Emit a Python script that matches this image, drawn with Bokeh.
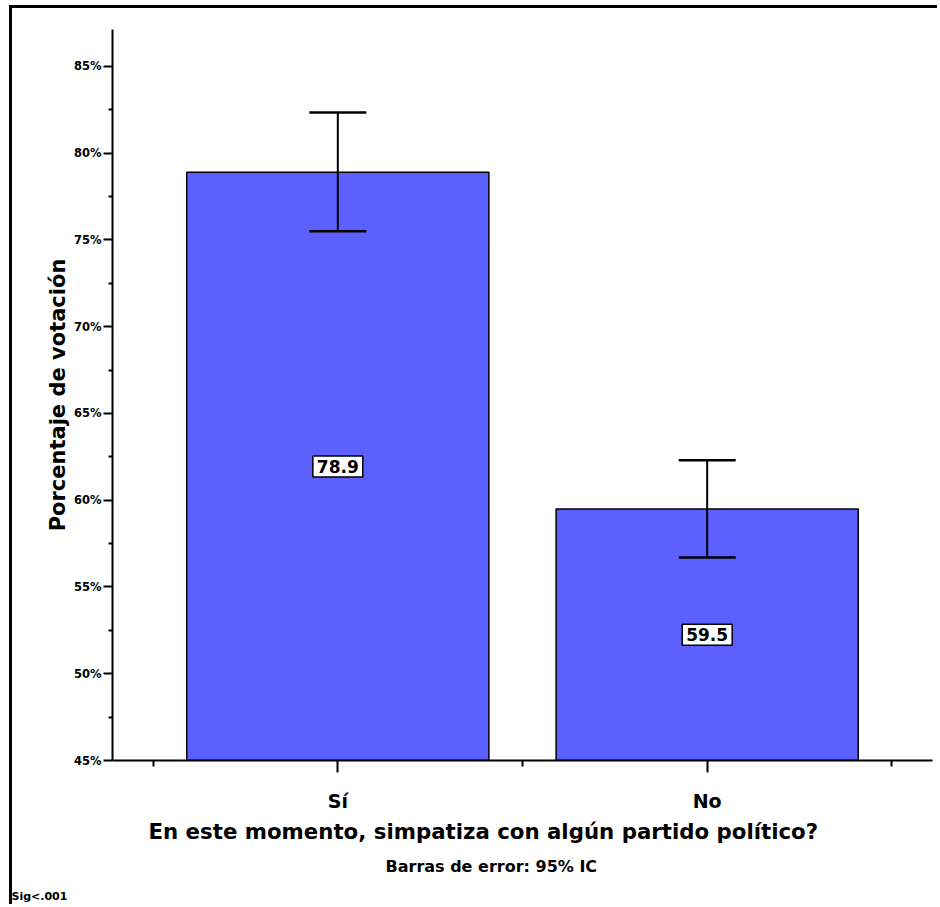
from bokeh.plotting import figure
from bokeh.models import Whisker, TeeHead, FixedTicker, Label, ColumnDataSource, Range1d, Title
from bokeh.embed import file_html
from bokeh.resources import INLINE

# ---- data ----
categories = ["Sí", "No"]
values = [78.9, 59.5]
ci_lower = [75.5, 56.7]
ci_upper = [82.35, 62.3]
y_ticks = [45, 50, 55, 60, 65, 70, 75, 80, 85]
y_tick_labels = ["45%", "50%", "55%", "60%", "65%", "70%", "75%", "80%", "85%"]
y_minor_ticks = [47.5, 52.5, 57.5, 62.5, 67.5, 72.5, 77.5, 82.5]
x_pos = [1, 2]
x_minor_ticks = [0.5, 1.5, 2.5]
y_base = 45

FONT = "DejaVu Sans"
BAR = "#5C60FF"

W, H = 928, 899
p = figure(width=W, height=H, output_backend="svg", toolbar_location=None,
           x_range=Range1d(0.39, 2.61), y_range=Range1d(45, 87.13),
           min_border_left=100, min_border_top=21, min_border_right=8, min_border_bottom=147)
p.margin = (5, 0, 0, 9)
p.styles = {"border-top": "3px solid black", "border-left": "3px solid black"}
p.outline_line_color = None
p.grid.visible = False
p.background_fill_color = "white"
p.border_fill_color = "white"

src = ColumnDataSource(dict(x=x_pos, top=values, lower=ci_lower, upper=ci_upper,
                            cat=categories))
p.vbar(x="x", top="top", bottom=y_base, width=0.818, source=src,
       fill_color=BAR, line_color="black", line_width=1.5)

w = Whisker(base="x", lower="lower", upper="upper", source=src,
            line_color="black", line_width=2, level="annotation",
            upper_head=TeeHead(size=57, line_color="black", line_width=2.5),
            lower_head=TeeHead(size=57, line_color="black", line_width=2.5))
p.add_layout(w)

for xv, v in zip(x_pos, values):
    p.add_layout(Label(x=xv, y=(y_base + v) / 2, text=f"{v:.1f}",
                       text_align="center", text_baseline="middle", text_color="black",
                       text_font=FONT, text_font_style="bold", text_font_size="17px",
                       background_fill_color="white", border_line_color="black",
                       border_line_width=1.5, padding=4))

# axes
for ax in (p.xaxis[0], p.yaxis[0]):
    ax.axis_line_width = 2
    ax.axis_line_color = "black"
    ax.major_tick_line_width = 2
    ax.minor_tick_line_width = 2
    ax.major_tick_in = 0
    ax.minor_tick_in = 0
    ax.major_label_text_font = FONT
    ax.major_label_text_font_style = "bold"
    ax.major_label_text_color = "black"

p.xaxis.ticker = FixedTicker(ticks=x_pos, minor_ticks=x_minor_ticks)
p.xaxis.major_label_overrides = {xv: c for xv, c in zip(x_pos, categories)}
p.xaxis.major_tick_out = 12
p.xaxis.minor_tick_out = 6
p.xaxis.major_label_text_font_size = "19px"
p.xaxis.major_label_standoff = 17

p.yaxis.ticker = FixedTicker(ticks=y_ticks, minor_ticks=y_minor_ticks)
p.yaxis.major_label_overrides = {t: l for t, l in zip(y_ticks, y_tick_labels)}
p.yaxis.major_tick_out = 9
p.yaxis.minor_tick_out = 4
p.yaxis.major_label_text_font_size = "11.5px"
p.yaxis.major_label_standoff = 2
p.yaxis.axis_label = "Porcentaje de votación"
p.yaxis.axis_label_text_font = FONT
p.yaxis.axis_label_text_font_style = "bold"
p.yaxis.axis_label_text_font_size = "21px"
p.yaxis.axis_label_text_color = "black"
p.yaxis.axis_label_standoff = 1

# texts below the chart, left-aligned to the frame with a pixel offset
def add_title(text, size, offset, standoff):
    p.add_layout(Title(text=text, align="left", offset=offset, standoff=standoff,
                       text_color="black", text_font=FONT, text_font_style="bold",
                       text_font_size=size), "below")

add_title("En este momento, simpatiza con algún partido político?", "21.3px", 36, 5)
add_title("Barras de error: 95% IC", "16px", 273, 17)
add_title("Sig<.001", "11px", -101, 7)

open("out.html", "w").write(file_html(p, INLINE))
